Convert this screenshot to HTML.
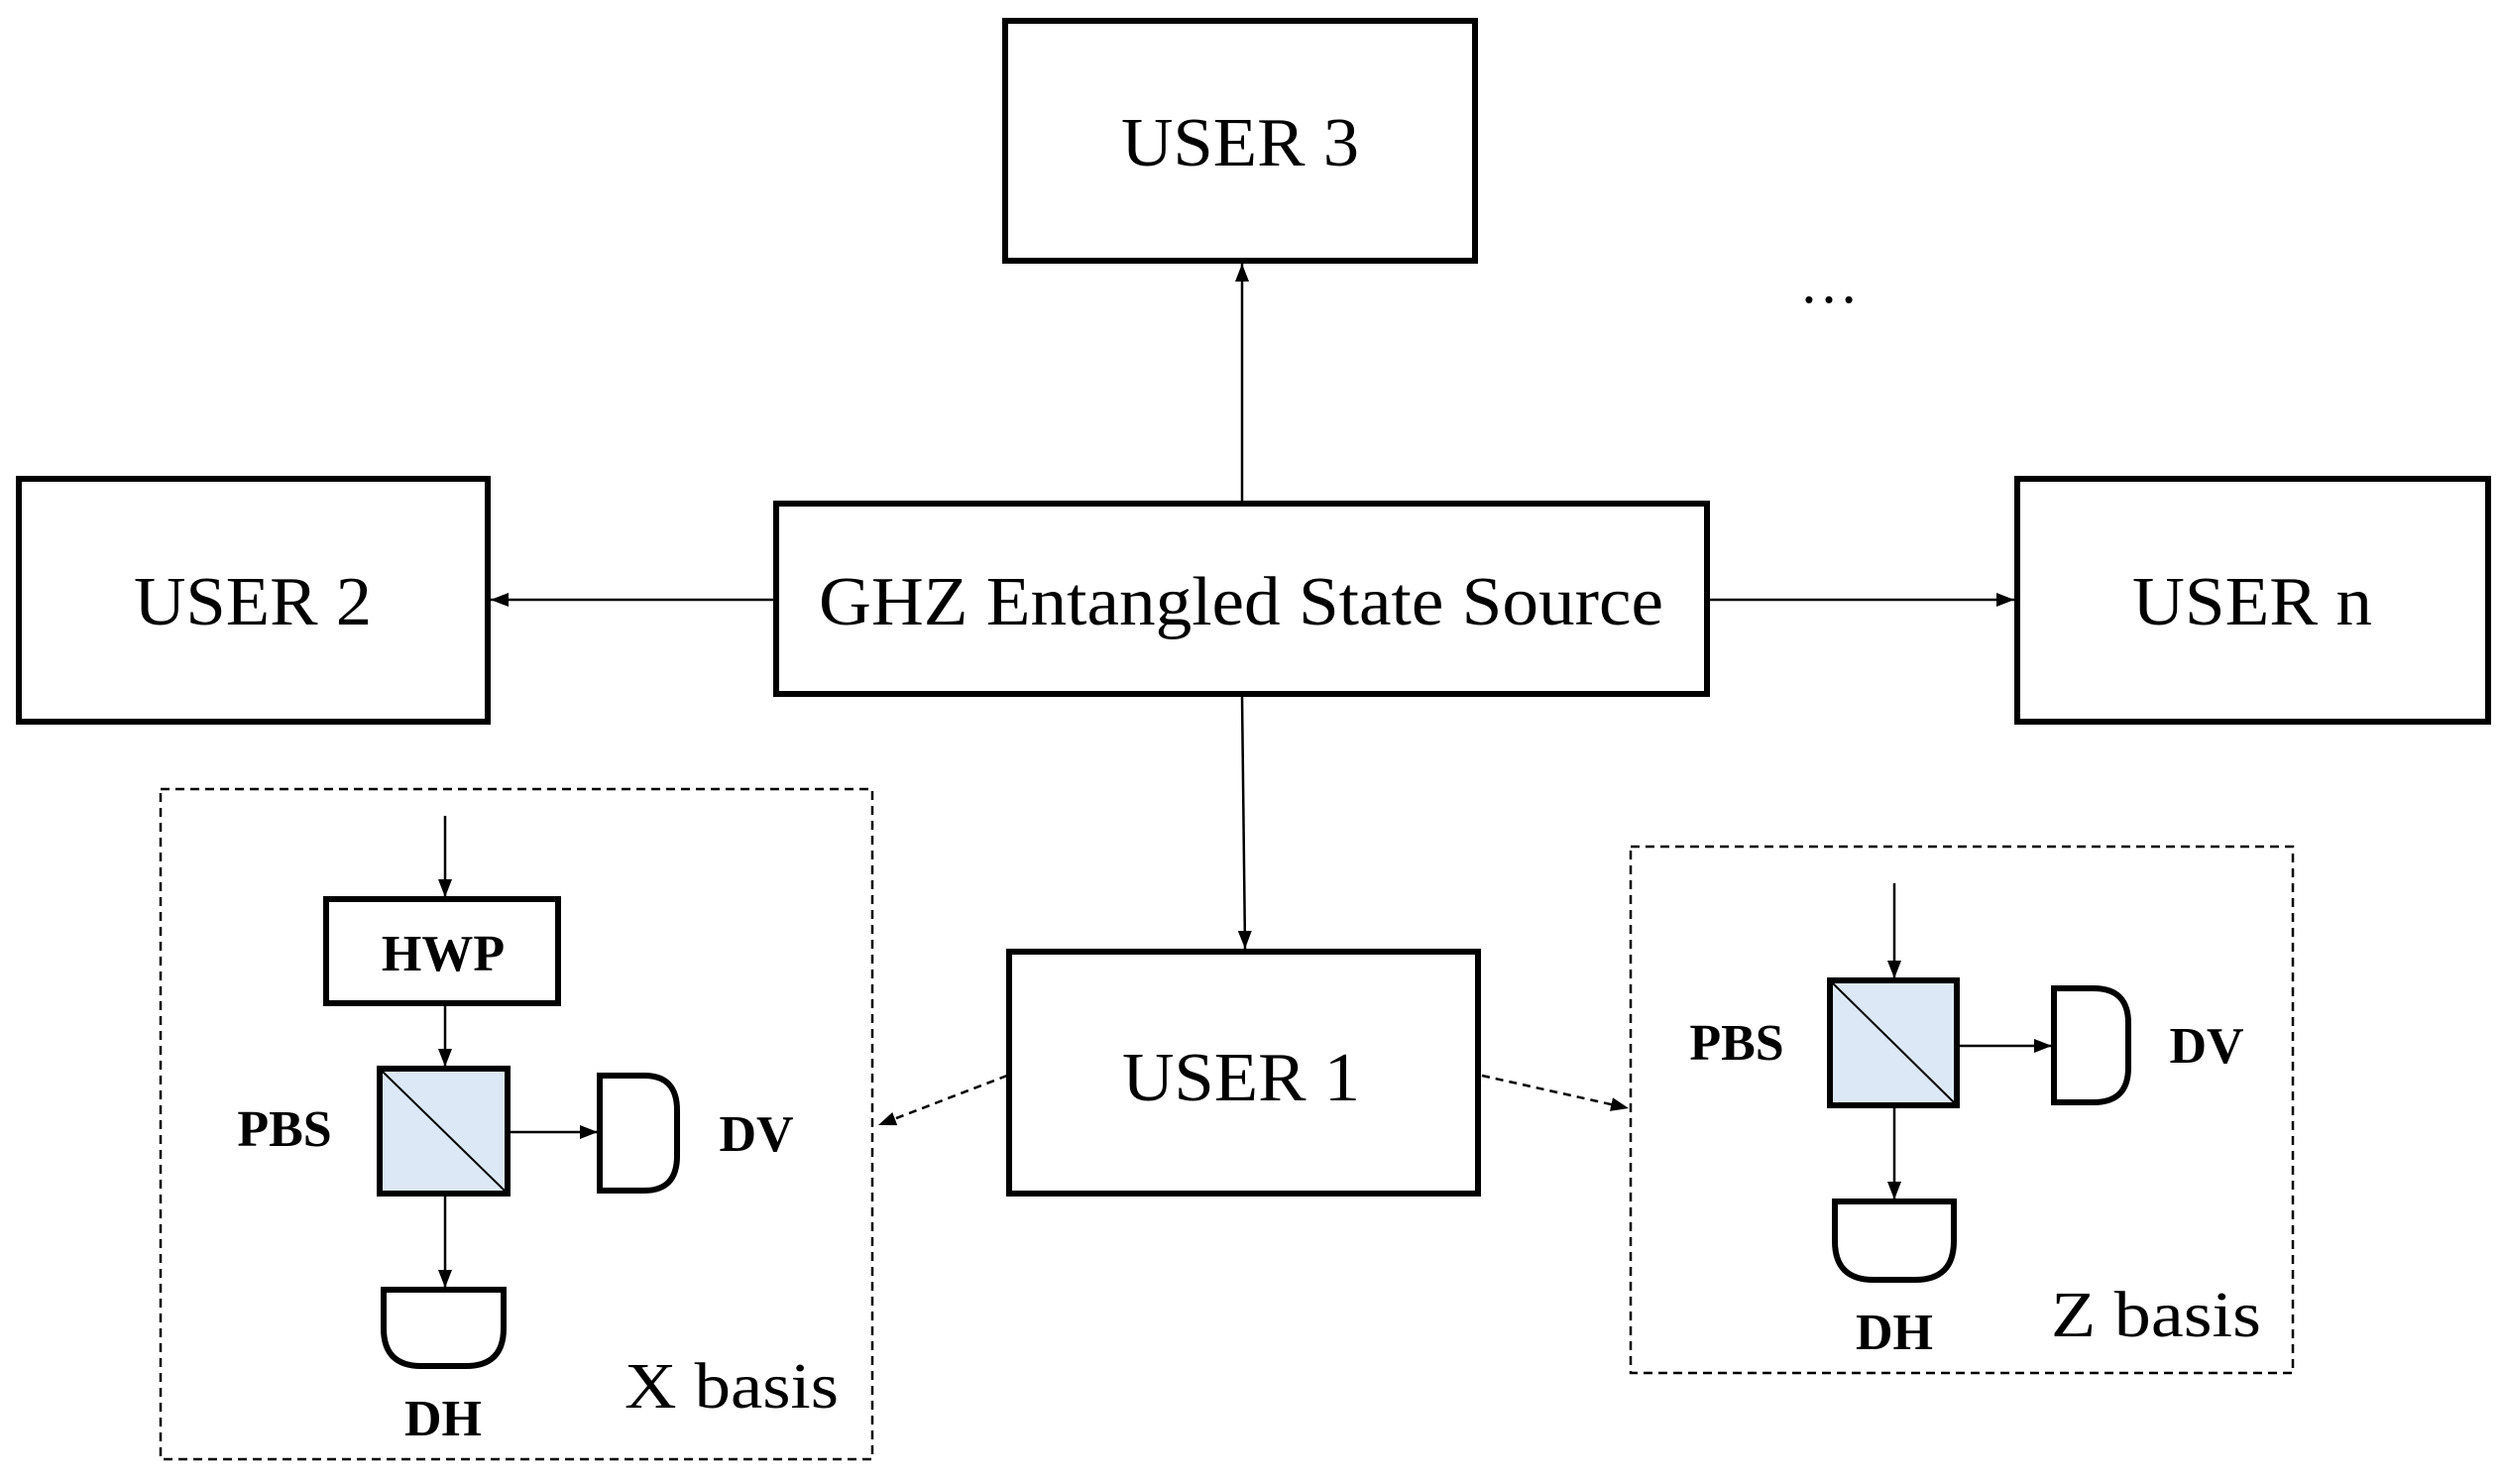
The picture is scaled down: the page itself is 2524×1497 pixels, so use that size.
<!DOCTYPE html>
<html><head><meta charset="utf-8">
<style>html,body{margin:0;padding:0;background:#fff}svg{display:block}</style>
</head><body>
<svg width="2524" height="1497" viewBox="0 0 2524 1497" xmlns="http://www.w3.org/2000/svg" font-family="Liberation Serif, serif">
<defs>
<marker id="b" markerWidth="18" markerHeight="14" refX="18" refY="7" orient="auto" markerUnits="userSpaceOnUse" viewBox="0 0 18 14"><path d="M0,0 L18,7 L0,14 Z" fill="#000"/></marker>
</defs>
<g fill="#fff" stroke="#000" stroke-width="6">
<rect x="1014" y="21" width="474" height="242"/>
<rect x="19" y="483" width="473" height="245"/>
<rect x="783" y="508" width="939" height="192"/>
<rect x="2035" y="483" width="475" height="245"/>
<rect x="1018" y="960" width="473" height="244"/>
</g>
<g font-size="70" text-anchor="middle" fill="#000">
<text x="1251" y="167" textLength="240" lengthAdjust="spacingAndGlyphs">USER 3</text>
<text x="255" y="630" textLength="240" lengthAdjust="spacingAndGlyphs">USER 2</text>
<text x="1252" y="630" textLength="852" lengthAdjust="spacingAndGlyphs">GHZ Entangled State Source</text>
<text x="2272" y="630" textLength="242" lengthAdjust="spacingAndGlyphs">USER n</text>
<text x="1252" y="1110" textLength="240" lengthAdjust="spacingAndGlyphs">USER 1</text>
<text x="1845" y="305" font-size="60">…</text>
</g>
<g stroke="#000" stroke-width="2.5" fill="none">
<line x1="1253" y1="505" x2="1253" y2="266" marker-end="url(#b)"/>
<line x1="1253" y1="703" x2="1256" y2="957" marker-end="url(#b)"/>
<line x1="780" y1="605" x2="495" y2="605" marker-end="url(#b)"/>
<line x1="1725" y1="605" x2="2032" y2="605" marker-end="url(#b)"/>
<line x1="1016" y1="1085" x2="886" y2="1135" stroke-dasharray="8,6" marker-end="url(#b)"/>
<line x1="1495" y1="1085" x2="1643" y2="1118" stroke-dasharray="8,6" marker-end="url(#b)"/>
</g>
<g fill="none" stroke="#000" stroke-width="2.5" stroke-dasharray="9,6">
<rect x="162" y="796" width="718" height="676"/>
<rect x="1645" y="854" width="668" height="531"/>
</g>
<g stroke="#000" stroke-width="2.5" fill="none">
<line x1="449" y1="823" x2="449" y2="905" marker-end="url(#b)"/>
<line x1="449" y1="1014" x2="449" y2="1076" marker-end="url(#b)"/>
<line x1="514" y1="1142" x2="603" y2="1142" marker-end="url(#b)"/>
<line x1="449" y1="1206" x2="449" y2="1299" marker-end="url(#b)"/>
<line x1="1911" y1="891" x2="1911" y2="987" marker-end="url(#b)"/>
<line x1="1976" y1="1055" x2="2070" y2="1055" marker-end="url(#b)"/>
<line x1="1911" y1="1117" x2="1911" y2="1210" marker-end="url(#b)"/>
</g>
<g stroke="#000" stroke-width="6" fill="#fff">
<rect x="329" y="907" width="234" height="105"/>
<rect x="383" y="1078" width="129" height="126" fill="#dce8f5"/>
<path d="M605,1085 H650 Q683,1085 683,1120 V1166 Q683,1201 650,1201 H605 Z"/>
<path d="M387,1301 H508 V1340 Q508,1378 470,1378 H425 Q387,1378 387,1340 Z"/>
<rect x="1846" y="989" width="128" height="126" fill="#dce8f5"/>
<path d="M2072,997 H2112 Q2147,997 2147,1032 V1077 Q2147,1112 2112,1112 H2072 Z"/>
<path d="M1851,1212 H1971 V1252 Q1971,1291 1932,1291 H1890 Q1851,1291 1851,1252 Z"/>
</g>
<g stroke="#000" stroke-width="2">
<line x1="386" y1="1081" x2="509" y2="1201"/>
<line x1="1849" y1="992" x2="1971" y2="1112"/>
</g>
<g font-size="52" font-weight="bold" text-anchor="middle" fill="#000">
<text x="447" y="979">HWP</text>
<text x="287" y="1156">PBS</text>
<text x="763" y="1161">DV</text>
<text x="447" y="1448">DH</text>
<text x="1752" y="1069">PBS</text>
<text x="2226" y="1072">DV</text>
<text x="1911" y="1361">DH</text>
</g>
<g font-size="66" text-anchor="middle" fill="#000">
<text x="738" y="1420" textLength="216" lengthAdjust="spacingAndGlyphs">X basis</text>
<text x="2175" y="1348" textLength="212" lengthAdjust="spacingAndGlyphs">Z basis</text>
</g>
</svg>
</body></html>
